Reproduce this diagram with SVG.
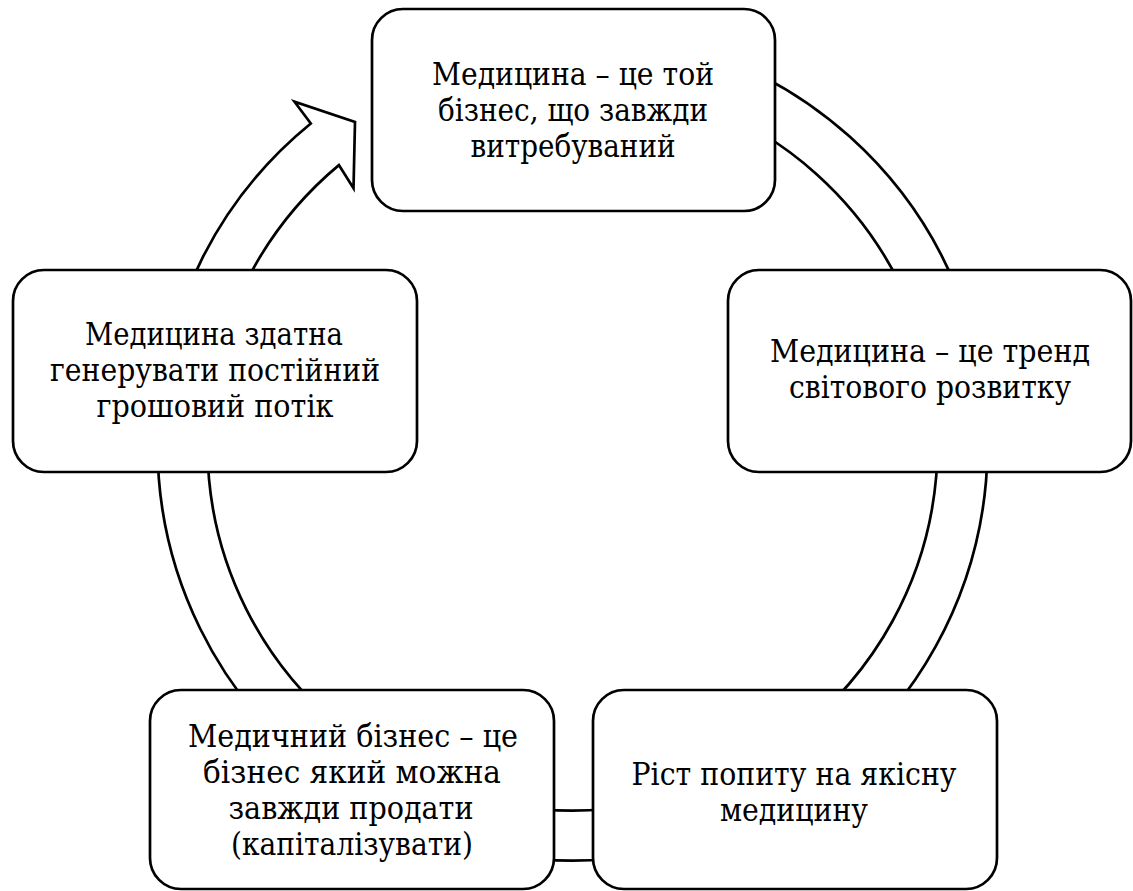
<svg xmlns="http://www.w3.org/2000/svg" width="1133" height="891" viewBox="0 0 1133 891">
<style>
.box{fill:#ffffff;stroke:#000000;stroke-width:2.7}
.ring{fill:#ffffff;stroke:#000000;stroke-width:2.7;stroke-linejoin:miter}
text{font-family:'DejaVu Serif','Liberation Serif',serif;font-size:31px;fill:#000000;text-anchor:middle}
</style>
<rect width="1133" height="891" fill="#ffffff"/>
<g id="connectors">
<path class="ring" d="M 700.7 50.8 A 415 415 0 1 1 310.8 123.5 L 294.5 101.7 L 355 122 L 353.5 188.3 L 338.9 165.1 A 365 365 0 1 0 685.3 98.4 Z"/>
</g>
<g id="node-top">
<rect class="box" x="372" y="9" width="403" height="202" rx="31"/>
<text x="573" y="85" textLength="282" lengthAdjust="spacingAndGlyphs">Медицина – це той</text>
<text x="573" y="121" textLength="270" lengthAdjust="spacingAndGlyphs">бізнес, що завжди</text>
<text x="573" y="157" textLength="205" lengthAdjust="spacingAndGlyphs">витребуваний</text>
</g>
<g id="node-right">
<rect class="box" x="728" y="270" width="403" height="202" rx="31"/>
<text x="930" y="362" textLength="320" lengthAdjust="spacingAndGlyphs">Медицина – це тренд</text>
<text x="930" y="398" textLength="282" lengthAdjust="spacingAndGlyphs">світового розвитку</text>
</g>
<g id="node-bottom-right">
<rect class="box" x="593" y="690" width="404" height="199" rx="31"/>
<text x="794" y="785" textLength="325" lengthAdjust="spacingAndGlyphs">Ріст попиту на якісну</text>
<text x="794" y="821" textLength="148" lengthAdjust="spacingAndGlyphs">медицину</text>
</g>
<g id="node-bottom-left">
<rect class="box" x="150" y="690" width="404" height="199" rx="31"/>
<text x="353" y="747" textLength="330" lengthAdjust="spacingAndGlyphs">Медичний бізнес – це</text>
<text x="352" y="783" textLength="298" lengthAdjust="spacingAndGlyphs">бізнес який можна</text>
<text x="351" y="819" textLength="245" lengthAdjust="spacingAndGlyphs">завжди продати</text>
<text x="352" y="855" textLength="242" lengthAdjust="spacingAndGlyphs">(капіталізувати)</text>
</g>
<g id="node-left">
<rect class="box" x="13" y="270" width="404" height="202" rx="31"/>
<text x="214" y="345" textLength="258" lengthAdjust="spacingAndGlyphs">Медицина здатна</text>
<text x="215" y="381" textLength="330" lengthAdjust="spacingAndGlyphs">генерувати постійний</text>
<text x="215" y="417" textLength="237" lengthAdjust="spacingAndGlyphs">грошовий потік</text>
</g>
</svg>
